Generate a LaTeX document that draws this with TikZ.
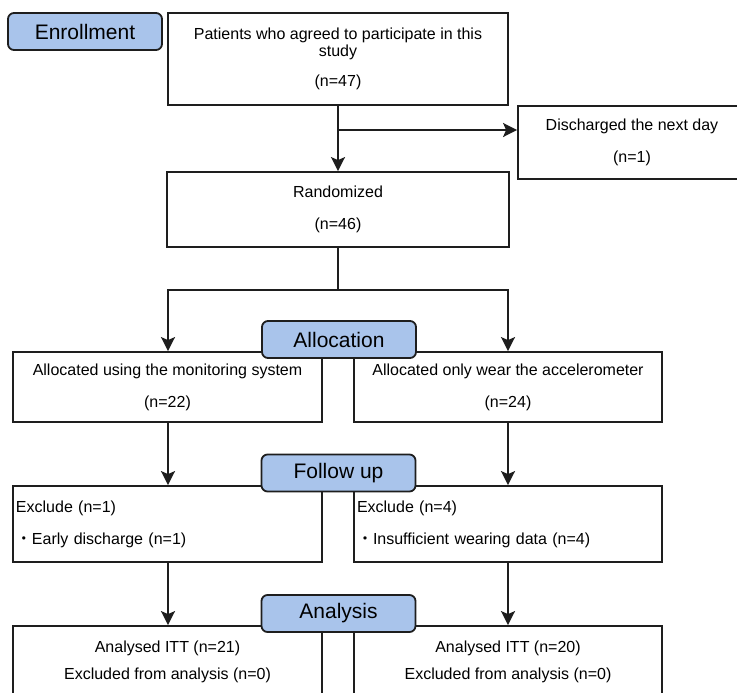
\documentclass[tikz,border=0pt]{standalone}
\usepackage{fontspec}
\setmainfont{Liberation Sans}
\newfontfamily\cjkdot{Noto Sans CJK JP}
\usetikzlibrary{arrows.meta}
\definecolor{phaseblue}{RGB}{169,196,235}
\definecolor{linegray}{RGB}{30,30,30}
\begin{document}
\begin{tikzpicture}[x=1pt,y=-1pt,
  box/.style={draw=linegray, line width=1.8pt, rectangle, inner sep=0pt, align=center,
    font=\fontsize{16}{17}\selectfont},
  lbox/.style={box, align=left, inner xsep=3pt, text width=303pt},
  phase/.style={draw=linegray, line width=1.8pt, rounded corners=6pt, fill=phaseblue,
    minimum width=154pt, minimum height=37pt, inner sep=0pt, font=\fontsize{21}{24}\selectfont},
  conn/.style={line width=2pt, draw=linegray},
  arr/.style={conn, -{Stealth[length=14pt,width=14pt,inset=3pt]}}
]
\clip (0,0) rectangle (737,693);

% boxes
\node[box, minimum width=340pt, minimum height=92pt] (pat) at (338,59)
  {Patients who agreed to participate in this\\study\\[13pt](n=47)};
\node[box, minimum width=228pt, minimum height=73pt] (dis) at (632,142.5)
  {Discharged the next day\\[15pt](n=1)};
\node[box, minimum width=342pt, minimum height=75pt] (rand) at (338,209.5)
  {Randomized\\[15pt](n=46)};
\node[box, minimum width=309pt, minimum height=70pt] (allocL) at (167.5,387)
  {Allocated using the monitoring system\\[15pt](n=22)};
\node[box, minimum width=308pt, minimum height=70pt] (allocR) at (508,387)
  {Allocated only wear the accelerometer\\[15pt](n=24)};
\node[lbox, minimum height=76pt] (exL) at (167.5,524)
  {Exclude (n=1)\\[15pt]{\cjkdot ・}Early discharge (n=1)};
\node[lbox, text width=302pt, minimum height=76pt] (exR) at (508,524)
  {Exclude (n=4)\\[15pt]{\cjkdot ・}Insufficient wearing data (n=4)};
\node[box, minimum width=309pt, minimum height=71pt] (anL) at (167.5,661.5)
  {Analysed ITT (n=21)\\[10pt]Excluded from analysis (n=0)};
\node[box, minimum width=308pt, minimum height=71pt] (anR) at (508,661.5)
  {Analysed ITT (n=20)\\[10pt]Excluded from analysis (n=0)};

% connectors
\coordinate (br) at (338,130);
\coordinate (split) at (338,290);
\coordinate (colL) at (168,0);
\draw[arr] (pat.south) -- (rand.north);
\draw[arr] (br) -- (br -| dis.west);
\draw[conn] (rand.south) -- (split);
\draw[arr] (split) -| (colL |- allocL.north);
\draw[arr] (split) -| (allocR.north);
\draw[arr] (colL |- allocL.south) -- (colL |- exL.north);
\draw[arr] (allocR.south) -- (exR.north);
\draw[arr] (colL |- exL.south) -- (colL |- anL.north);
\draw[arr] (exR.south) -- (anR.north);

% phase labels
\node[phase] (enr) at (85,31.5) {Enrollment};
\node[phase] (alloc) at (339,339.5) {Allocation};
\node[phase] (fu) at (338.5,473) {Follow up};
\node[phase] (an) at (338.5,613.5) {Analysis};
\end{tikzpicture}
\end{document}
